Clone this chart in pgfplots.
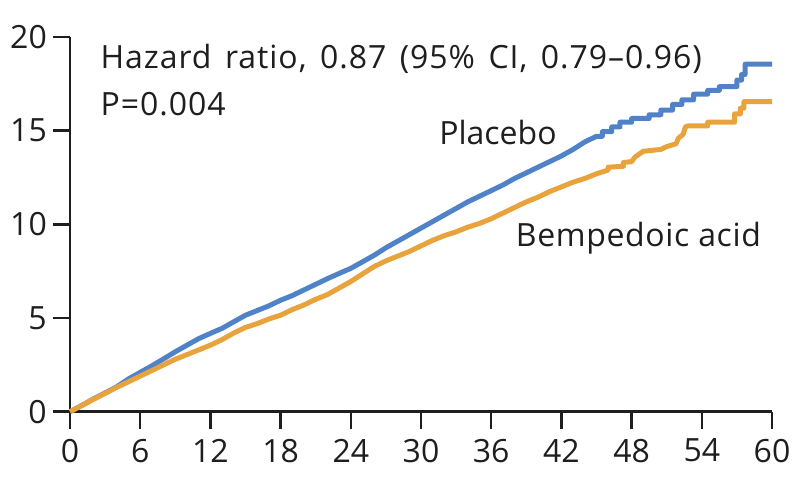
\documentclass[border=0pt]{standalone}
\usepackage{pgfplots}
\pgfplotsset{compat=1.18}
\usepackage{fontspec}
\setmainfont{Open Sans}
\newfontfamily\widefont[LetterSpace=3]{Open Sans}
\newfontfamily\semiwide[LetterSpace=2]{Open Sans}
\definecolor{placebo}{RGB}{80,130,200}
\definecolor{bemp}{RGB}{232,163,60}
\definecolor{axgray}{RGB}{30,30,30}
\begin{document}
\fontsize{32}{38}\selectfont
\begin{tikzpicture}
\useasboundingbox (0,0) rectangle (800pt,488pt);
\begin{axis}[
  at={(70pt,76.3pt)}, anchor=south west,
  scale only axis, width=702pt, height=374.7pt,
  xmin=0, xmax=60, ymin=0, ymax=20,
  enlargelimits=false, clip=false,
  axis x line*=bottom, axis y line*=left,
  axis line style={line width=2.5pt, color=axgray},
  xtick={0,6,...,60}, ytick={0,5,...,20},
  tick align=outside, major tick length=17pt,
  tick style={line width=2.5pt, color=axgray},
  /pgf/number format/assume math mode=true,
  tick label style={font=\fontsize{32}{38}\selectfont, text=axgray},
  yticklabel style={inner sep=6pt},
  xticklabel style={inner sep=10pt},
]
\addplot[color=placebo, line width=5pt, line join=round] coordinates {
(0,0) (1,0.33) (2,0.68) (3,1.0) (4,1.33) (5,1.75) (6,2.1) (7,2.45) (8,2.82) (9,3.2)
(10,3.55) (11,3.9) (12,4.18) (13,4.45) (14,4.8) (15,5.15) (16,5.4) (17,5.65) (18,5.95) (19,6.2)
(20,6.5) (21,6.8) (22,7.1) (23,7.38) (24,7.65) (25,8.0) (26,8.35) (27,8.75) (28,9.1) (29,9.45)
(30,9.8) (31,10.15) (32,10.5) (33,10.85) (34,11.2) (35,11.5) (36,11.8) (37,12.1) (38,12.45) (39,12.75)
(40,13.05) (41,13.35) (42,13.65) (43,14.0) (44,14.4) (45,14.7)
(45.5,14.7) (45.5,14.95) (46.3,14.95) (46.3,15.2) (47,15.2) (47,15.45) (48,15.45) (48,15.65)
(49.5,15.65) (49.5,15.85) (50.5,15.85) (50.5,16.1) (51.5,16.1) (51.5,16.4) (52.3,16.4) (52.3,16.65)
(53.3,16.65) (53.3,16.95) (54.5,16.95) (54.5,17.15) (55.5,17.15) (55.5,17.35) (57,17.35) (57,17.7)
(57.4,17.7) (57.4,18.0) (57.7,18.0) (57.7,18.55) (60,18.55)
};
\addplot[color=bemp, line width=5pt, line join=round] coordinates {
(0,0) (1,0.33) (2,0.66) (3,0.98) (4,1.3) (5,1.6) (6,1.9) (7,2.2) (8,2.5) (9,2.8)
(10,3.05) (11,3.3) (12,3.55) (13,3.85) (14,4.2) (15,4.5) (16,4.7) (17,4.95) (18,5.15) (19,5.45)
(20,5.7) (21,6.0) (22,6.25) (23,6.6) (24,6.95) (25,7.35) (26,7.75) (27,8.05) (28,8.3) (29,8.55)
(30,8.85) (31,9.15) (32,9.4) (33,9.6) (34,9.85) (35,10.05) (36,10.3) (37,10.6) (38,10.9) (39,11.2)
(40,11.45) (41,11.75) (42,12.0) (43,12.25) (44,12.45) (45,12.7)
(46,12.9) (46,13.05) (47.3,13.1) (47.3,13.3) (48,13.35) (48.3,13.6) (49,13.9) (50.5,14.0)
(51,14.15) (51.8,14.3) (52,14.6) (52.4,14.8) (52.6,15.2) (52.8,15.25) (54.5,15.25) (54.5,15.45)
(56.8,15.45) (56.8,15.9) (57.3,15.9) (57.3,16.2) (57.6,16.2) (57.6,16.55) (60,16.55)
};
\node[anchor=base west, inner sep=0, text=axgray] at (axis cs:2.6,18.31) {\widefont\spaceskip=0.42em\relax Hazard ratio, 0.87 (95\% CI, 0.79–0.96)};
\node[anchor=base west, inner sep=0, text=axgray] at (axis cs:2.6,15.82) {\widefont P=0.004};
\node[anchor=base west, inner sep=0, text=axgray] at (axis cs:31.55,14.26) {Placebo};
\node[anchor=base west, inner sep=0, text=axgray] at (axis cs:38.1,8.84) {\semiwide Bempedoic acid};
\end{axis}
\end{tikzpicture}
\end{document}
